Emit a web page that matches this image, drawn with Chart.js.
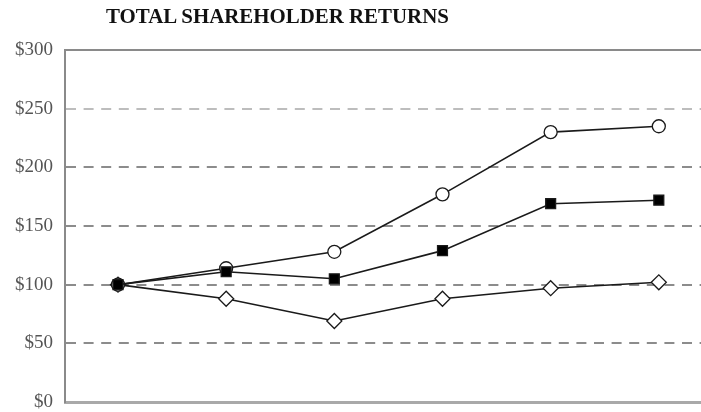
<!DOCTYPE html>
<html>
<head>
<meta charset="utf-8">
<script src="https://cdn.jsdelivr.net/npm/chart.js@4/dist/chart.umd.min.js"></script>
<style>
  html, body { margin: 0; padding: 0; background: #fff; }
  #wrap { position: relative; width: 701px; height: 412px; overflow: hidden; }
  #title {
    position: absolute; left: 106px; top: 6px;
    font: bold 20.9px "Liberation Serif", "Times New Roman", serif;
    line-height: 1; color: #111; white-space: nowrap;
  }
  #chart { position: absolute; left: 0; top: 0; }
</style>
</head>
<body>
<div id="wrap">
  <canvas id="chart" width="701" height="412"></canvas>
  <div id="title">TOTAL SHAREHOLDER RETURNS</div>
</div>
<script>
// six measurement points, no labels shown on the chart
const periods = [0, 1, 2, 3, 4, 5];
const circleValues = [100, 114, 128, 177, 230, 235];
const squareValues = [100, 111, 105, 129, 169, 172];
const diamondValues = [100, 88, 69, 88, 97, 102];
const yTicks = [0, 50, 100, 150, 200, 250, 300];

const toPoints = (vals) => vals.map((v, i) => ({ x: periods[i], y: v }));

const lineStyle = {
  borderColor: "#1a1a1a",
  borderWidth: 1.6,
  pointBorderColor: "#1a1a1a",
  pointBorderWidth: 1.3,
  tension: 0,
  fill: false,
};

// keep the plot frame where it is in the picture: no automatic label padding
const noPad = (axis) => {
  axis.paddingLeft = 0;
  axis.paddingRight = 0;
  axis.paddingTop = 0;
  axis.paddingBottom = 0;
};

new Chart(document.getElementById("chart"), {
  type: "line",
  data: {
    datasets: [
      { ...lineStyle, label: "square", data: toPoints(squareValues), pointStyle: "rect", pointRadius: 7, pointBackgroundColor: "#000" },
      { ...lineStyle, label: "circle", data: toPoints(circleValues), pointStyle: "circle", pointRadius: 6.5, pointBackgroundColor: "#fff" },
      { ...lineStyle, label: "diamond", data: toPoints(diamondValues), pointStyle: "rectRot", pointRadius: 7.5, pointBackgroundColor: "#fff" },
    ],
  },
  options: {
    responsive: false,
    animation: false,
    events: [],
    layout: { autoPadding: false, padding: { left: 0, right: 0, top: 50, bottom: 10 } },
    plugins: { legend: { display: false }, tooltip: { enabled: false }, title: { display: false } },
    scales: {
      x: {
        type: "linear",
        min: -0.49,
        max: 5.39,
        ticks: { display: false },
        grid: { display: false, drawTicks: false },
        border: { display: true, color: "#a9a9a9", width: 3 },
        afterFit: (axis) => { axis.height = 0; noPad(axis); },
      },
      xTop: {
        type: "linear",
        position: "top",
        min: -0.49,
        max: 5.39,
        ticks: { display: false },
        grid: { display: false, drawTicks: false },
        border: { display: true, color: "#8a8a8a", width: 2 },
        afterFit: (axis) => { axis.height = 0; noPad(axis); },
      },
      y: {
        min: 0,
        max: 300,
        afterBuildTicks: (axis) => { axis.ticks = yTicks.map((v) => ({ value: v })); },
        afterFit: (axis) => { axis.width = 65; noPad(axis); },
        ticks: {
          padding: 12,
          color: "#555",
          font: { family: "'Liberation Serif', 'Times New Roman', serif", size: 19 },
          callback: (v) => "$" + v,
        },
        grid: {
          drawTicks: false,
          lineWidth: 2,
          color: (ctx) => {
            const v = ctx.tick ? ctx.tick.value : null;
            if (v === 0 || v === 300) return "rgba(0,0,0,0)";
            if (v === 250) return "#bdbdbd";
            return "#8c8c8c";
          },
        },
        border: { display: true, color: "#8a8a8a", width: 2, dash: [10, 7.6] },
      },
    },
  },
});
</script>
</body>
</html>
